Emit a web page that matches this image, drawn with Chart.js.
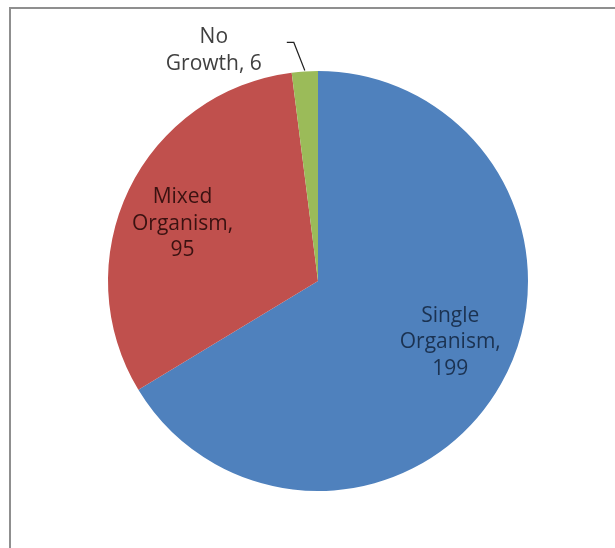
<!DOCTYPE html>
<html>
<head>
<meta charset="utf-8">
<script src="https://cdn.jsdelivr.net/npm/chart.js@4"></script>
<style>
  html, body { margin: 0; padding: 0; background: #fff; overflow: hidden; }
  #wrap { position: relative; width: 615px; height: 548px; }
  #frame { position: absolute; left: 9px; top: 7px; width: 700px; height: 700px; border: 2px solid #8f8f8f; box-sizing: border-box; }
  canvas { position: absolute; left: 0; top: 0; }
</style>
</head>
<body>
<div id="wrap">
  <div id="frame"></div>
  <canvas id="chart" width="615" height="548"></canvas>
</div>
<script>
// Slice data (clockwise from 12 o'clock)
const categories = ['Single Organism', 'Mixed Organism', 'No Growth'];
const counts = [199, 95, 6];
const sliceColors = ['#4F81BD', '#C0504D', '#9BBB59'];
const labelLines = [
  ['Single', 'Organism,', '199'],
  ['Mixed', 'Organism,', '95'],
  ['No', 'Growth, 6']
];
const labelColors = ['#1b3251', '#3a1211', '#404040'];

// Draws Excel-style data labels (inside slices, the small one outside with a leader line)
const sliceLabels = {
  id: 'sliceLabels',
  afterDatasetsDraw(chart) {
    const { ctx } = chart;
    const arcs = chart.getDatasetMeta(0).data;
    const nudge = [[6, -10], [-5, 6]];
    ctx.save();
    ctx.font = '21px "Open Sans", "Noto Sans", sans-serif';
    ctx.textAlign = 'center';
    ctx.textBaseline = 'middle';
    const lineH = 26.5;
    arcs.forEach((arc, i) => {
      const { x, y, startAngle, endAngle, outerRadius } = arc.getProps(['x', 'y', 'startAngle', 'endAngle', 'outerRadius'], true);
      const mid = (startAngle + endAngle) / 2;
      let cx, cy;
      if (i < 2) {
        cx = x + Math.cos(mid) * outerRadius * 0.69 + nudge[i][0];
        cy = y + Math.sin(mid) * outerRadius * 0.69 + nudge[i][1];
      } else {
        // outside label + leader line
        const ox = x + Math.cos(mid) * outerRadius;
        const oy = y + Math.sin(mid) * outerRadius;
        ctx.strokeStyle = '#222';
        ctx.lineWidth = 1.2;
        ctx.beginPath();
        ctx.moveTo(ox, oy - 1);
        ctx.lineTo(ox - 11, oy - 29);
        ctx.lineTo(ox - 18, oy - 29);
        ctx.stroke();
        cx = ox - 91;
        cy = oy - 21;
      }
      ctx.fillStyle = labelColors[i];
      const lines = labelLines[i];
      const top = cy - (lines.length - 1) * lineH / 2;
      lines.forEach((t, k) => ctx.fillText(t, cx, top + k * lineH));
    });
    ctx.restore();
  }
};

new Chart(document.getElementById('chart'), {
  type: 'pie',
  data: {
    labels: categories,
    datasets: [{
      data: counts,
      backgroundColor: sliceColors,
      borderWidth: 0
    }]
  },
  options: {
    responsive: false,
    animation: false,
    layout: { padding: { left: 108, right: 87, top: 71, bottom: 57 } },
    plugins: {
      legend: { display: false },
      tooltip: { enabled: false }
    }
  },
  plugins: [sliceLabels]
});
</script>
</body>
</html>
